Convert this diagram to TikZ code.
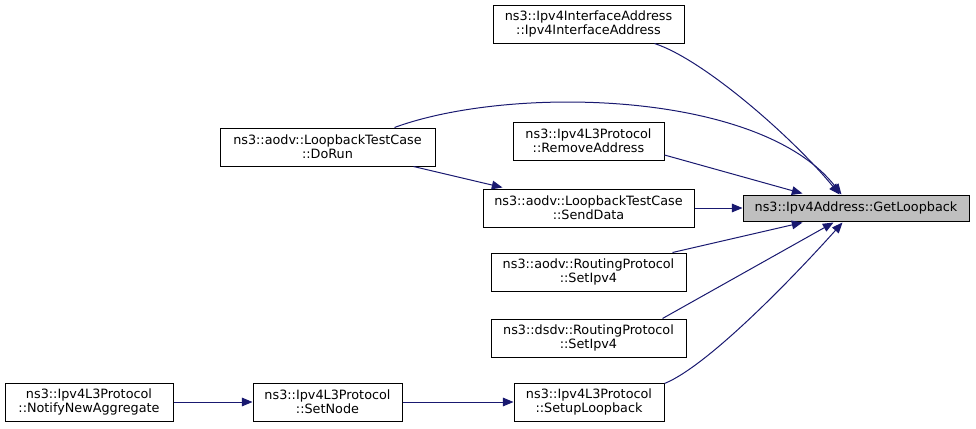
\documentclass[tikz,border=0pt]{standalone}
\usepackage{fontspec}
\setmainfont{DejaVu Sans}
\usetikzlibrary{arrows.meta,calc}
\definecolor{edgeblue}{HTML}{191970}
\begin{document}
\begin{tikzpicture}[x=0.75pt,y=-0.75pt,
  box/.style={draw=black,line width=0.75pt,fill=white,inner sep=0pt,minimum height=28.5pt,
    align=center,font=\fontsize{9.6pt}{10.3pt}\selectfont},
  edge/.style={draw=edgeblue,line width=0.75pt,-{Triangle[length=8pt,width=6.5pt]}}]
\useasboundingbox (0,0) rectangle (976,429);
\node[box,minimum width=143.25pt] (ia) at (588.5,24) {ns3::Ipv4InterfaceAddress\\::Ipv4InterfaceAddress};
\node[box,minimum width=161.25pt] (dorun) at (327.5,147) {ns3::aodv::LoopbackTestCase\\::DoRun};
\node[box,minimum width=113.25pt] (remove) at (588.5,141) {ns3::Ipv4L3Protocol\\::RemoveAddress};
\node[box,minimum width=169.5pt,minimum height=19.5pt,fill={rgb,255:red,191;green,191;blue,191}] (gl) at (856,208) {ns3::Ipv4Address::GetLoopback};
\node[box,minimum width=158.25pt] (send) at (588.5,208) {ns3::aodv::LoopbackTestCase\\::SendData};
\node[box,minimum width=146.25pt] (aodv) at (588.5,272) {ns3::aodv::RoutingProtocol\\::SetIpv4};
\node[box,minimum width=146.25pt] (dsdv) at (588.5,338) {ns3::dsdv::RoutingProtocol\\::SetIpv4};
\node[box,minimum width=112.5pt] (setup) at (589,402) {ns3::Ipv4L3Protocol\\::SetupLoopback};
\node[box,minimum width=111.75pt] (setnode) at (327.5,402) {ns3::Ipv4L3Protocol\\::SetNode};
\node[box,minimum width=126pt] (notify) at (89,402) {ns3::Ipv4L3Protocol\\::NotifyNewAggregate};
% edges
\draw[edge] ($(ia.south)+(66,0)$) .. controls (705,60) and (795,140) .. ($(gl.north west)+(97,0)$);
\draw[edge] ($(dorun.north)+(67,0)$) .. controls (510,85) and (760,90) .. ($(gl.north west)+(99,0)$);
\draw[edge] ($(dorun.south)+(86,0)$) -- ($(send.north west)+(20,-1)$);
\draw[edge] ($(remove.east)+(0,14)$) -- ($(gl.north west)+(60,-1)$);
\draw[edge] (send.east) -- (gl.west);
\draw[edge] ($(aodv.north east)+(-14,0)$) -- ($(gl.south west)+(60,1)$);
\draw[edge] ($(dsdv.north east)+(-24,0)$) -- ($(gl.south west)+(91,1)$);
\draw[edge] ($(setup.north east)+(0,1)$) .. controls (710,365) and (800,270) .. ($(gl.south west)+(100,1)$);
\draw[edge] (setnode.east) -- (setup.west);
\draw[edge] (notify.east) -- (setnode.west);
\end{tikzpicture}
\end{document}
